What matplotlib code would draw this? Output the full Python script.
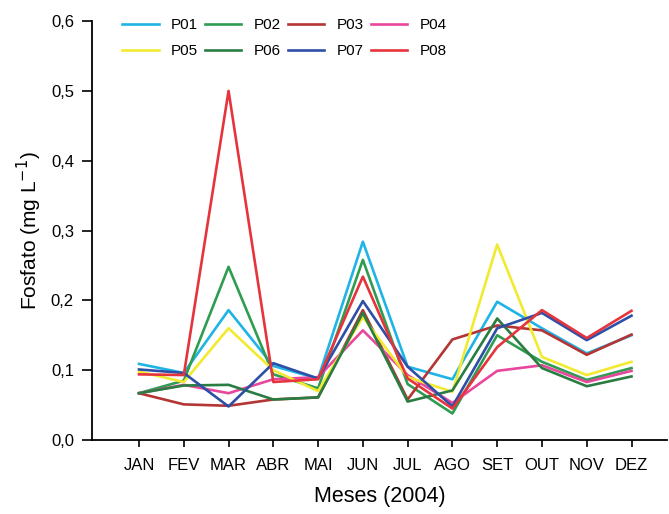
import numpy as np
import matplotlib
matplotlib.use("Agg")
import matplotlib.pyplot as plt

plt.rcParams['font.family'] = ['Liberation Sans', 'DejaVu Sans']

meses = ["JAN", "FEV", "MAR", "ABR", "MAI", "JUN", "JUL", "AGO", "SET", "OUT", "NOV", "DEZ"]

p01 = [0.109, 0.096, 0.186, 0.106, 0.088, 0.284, 0.105, 0.087, 0.198, 0.160, 0.124, 0.150]
p02 = [0.067, 0.085, 0.248, 0.094, 0.074, 0.258, 0.080, 0.038, 0.150, 0.112, 0.086, 0.103]
p03 = [0.067, 0.051, 0.049, 0.058, 0.061, 0.186, 0.058, 0.144, 0.164, 0.157, 0.122, 0.151]
p04 = [0.067, 0.079, 0.067, 0.087, 0.090, 0.157, 0.093, 0.053, 0.099, 0.107, 0.083, 0.099]
p05 = [0.098, 0.083, 0.160, 0.100, 0.070, 0.176, 0.090, 0.069, 0.280, 0.119, 0.093, 0.112]
p06 = [0.067, 0.078, 0.079, 0.058, 0.061, 0.182, 0.055, 0.071, 0.174, 0.103, 0.077, 0.091]
p07 = [0.101, 0.096, 0.048, 0.110, 0.088, 0.199, 0.105, 0.048, 0.160, 0.182, 0.143, 0.178]
p08 = [0.094, 0.093, 0.500, 0.083, 0.087, 0.234, 0.088, 0.045, 0.133, 0.186, 0.146, 0.185]

series = [("P01", p01, "#1fb4e6"), ("P02", p02, "#2f9c52"), ("P03", p03, "#b53434"),
          ("P04", p04, "#e8479c"), ("P05", p05, "#f2ea30"), ("P06", p06, "#2a7d42"),
          ("P07", p07, "#2e4fa6"), ("P08", p08, "#e6343c")]

fig = plt.figure(figsize=(6.69, 5.14), dpi=100)
ax = fig.add_axes([0.1375, 0.144, 0.86, 0.815])

x = np.arange(len(meses))
linhas = []
for nome, vals, cor in series:
    l, = ax.plot(x, vals, color=cor, lw=1.9, label=nome)
    linhas.append(l)

ax.set_xlim(-1.05, 11.8)
ax.set_ylim(0, 0.6)
ax.set_xticks(x)
ax.set_xticklabels(meses, fontsize=12)
yt = np.arange(0, 0.61, 0.1)
ax.set_yticks(yt)
ax.set_yticklabels([f"{v:.1f}".replace(".", ",") for v in yt], fontsize=12)
ax.tick_params(axis='x', direction='out', length=5, width=1.2, pad=8)
ax.tick_params(axis='y', direction='out', length=7, width=1.2, pad=6)
ax.spines['top'].set_visible(False)
ax.spines['right'].set_visible(False)
ax.spines['left'].set_linewidth(1.3)
ax.spines['bottom'].set_linewidth(1.3)

ax.set_xlabel("Meses (2004)", fontsize=15.5, labelpad=9)
ax.set_ylabel("Fosfato (mg L$^{-1}$)", fontsize=15, labelpad=5)

# legenda em linhas: P01..P04 em cima, P05..P08 embaixo
ordem = [0, 4, 1, 5, 2, 6, 3, 7]
ax.legend([linhas[i] for i in ordem], [series[i][0] for i in ordem],
          ncol=4, loc='upper left', bbox_to_anchor=(0.028, 1.04), frameon=False,
          fontsize=11, handlelength=2.4, handletextpad=0.8, columnspacing=0.45,
          labelspacing=0.8)

fig.savefig("out.png", dpi=100)
